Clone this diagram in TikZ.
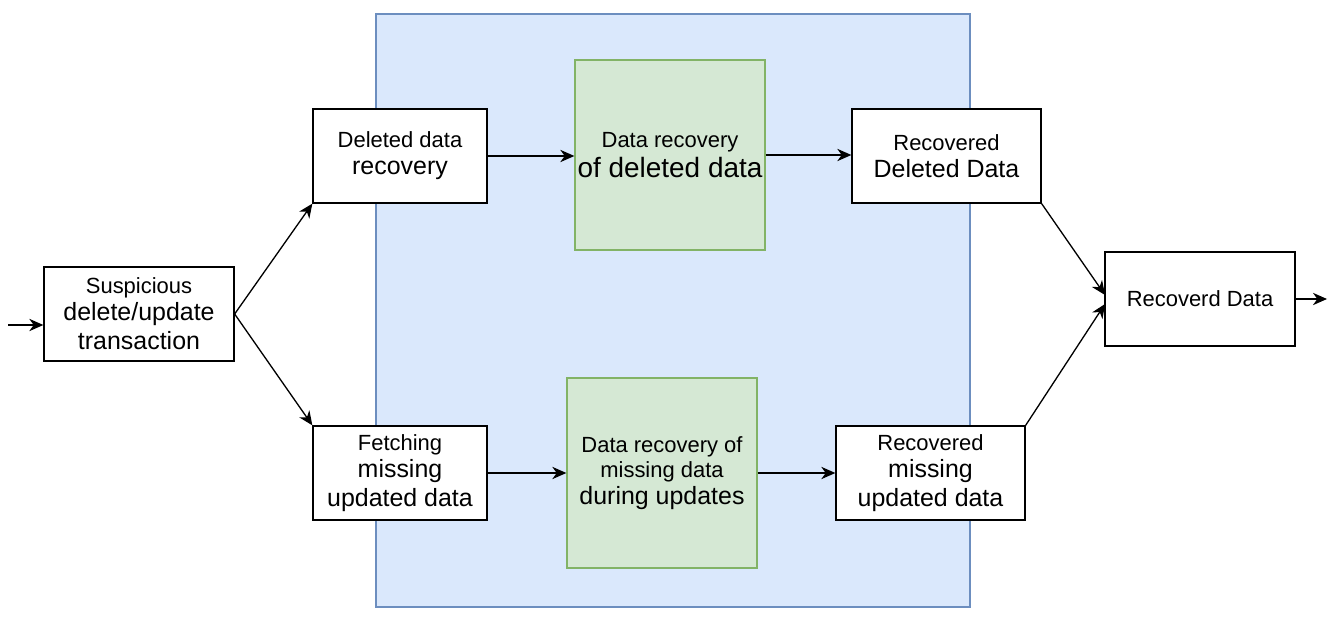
\documentclass[tikz,border=0pt]{standalone}
\usepackage{fontspec}
\setmainfont{Liberation Sans}
\usetikzlibrary{arrows.meta}
\definecolor{bluefill}{HTML}{DAE8FC}
\definecolor{bluedraw}{HTML}{6C8EBF}
\definecolor{greenfill}{HTML}{D5E8D4}
\definecolor{greendraw}{HTML}{82B366}
\newcommand\smtxt{\fontsize{12.5}{15.3}\selectfont}
\newcommand\bgtxt{\fontsize{14.2}{15.3}\selectfont}
\newcommand\hgtxt{\fontsize{15.9}{15.3}\selectfont}
\tikzset{
  box/.style={draw=black, fill=white, line width=0.75pt, inner sep=0pt, align=center,
    font=\smtxt, minimum width=#1, minimum height=1.88cm},
  gbox/.style={draw=greendraw, fill=greenfill, line width=0.75pt, inner sep=0pt, align=center,
    font=\smtxt, minimum width=3.8cm, minimum height=3.8cm},
  conn/.style={line width=0.75pt, -{Stealth[length=8pt,width=7pt,inset=2.5pt]}}
}
\begin{document}
\begin{tikzpicture}[x=0.02cm,y=-0.02cm]
\useasboundingbox (0,0) rectangle (1338,624);
\fill[white] (0,0) rectangle (1338,624);
\draw[fill=bluefill, draw=bluedraw, line width=0.75pt] (376,14) rectangle (970,607);
\node[gbox] (g1) at (670,155) {\smtxt Data recovery\\[2.2pt]\hgtxt of deleted data};
\node[gbox] (g2) at (662,473) {\smtxt Data recovery of\\[-1pt]\smtxt missing data\\\bgtxt during updates};
\node[box=3.8cm] (susp) at (139,314) {\smtxt Suspicious\\\bgtxt delete/update\\[1.2pt]\bgtxt transaction};
\node[box=3.48cm] (del) at (400,156) {\smtxt Deleted data\\\bgtxt recovery};
\node[box=3.48cm] (fetch) at (400,473) {\smtxt Fetching\\\bgtxt missing\\[1.2pt]\bgtxt updated data};
\node[box=3.78cm] (recdel) at (946.5,156) {\smtxt Recovered\\\bgtxt Deleted Data};
\node[box=3.78cm] (recmis) at (930.5,473) {\smtxt Recovered\\\bgtxt missing\\[1.2pt]\bgtxt updated data};
\node[box=3.8cm] (recd) at (1200,299) {\smtxt Recoverd Data};
\coordinate (inpt) at (8,325);
\coordinate (outp) at (1327,299);
\coordinate (rin1) at (1105,295);
\coordinate (rin2) at (1105,304);
\draw[conn] (inpt) -- (susp.west |- inpt);
\draw[conn] (susp.east) -- (del.south west);
\draw[conn] (susp.east) -- (fetch.north west);
\draw[conn] (del.east) -- (g1.west |- del.east);
\draw[conn] (g1.east) -- (recdel.west |- g1.east);
\draw[conn] (fetch.east) -- (g2.west |- fetch.east);
\draw[conn] (g2.east) -- (recmis.west |- g2.east);
\draw[conn] (recdel.south east) -- (rin1);
\draw[conn] (recmis.north east) -- (rin2);
\draw[conn] (recd.east) -- (outp);
\end{tikzpicture}
\end{document}
